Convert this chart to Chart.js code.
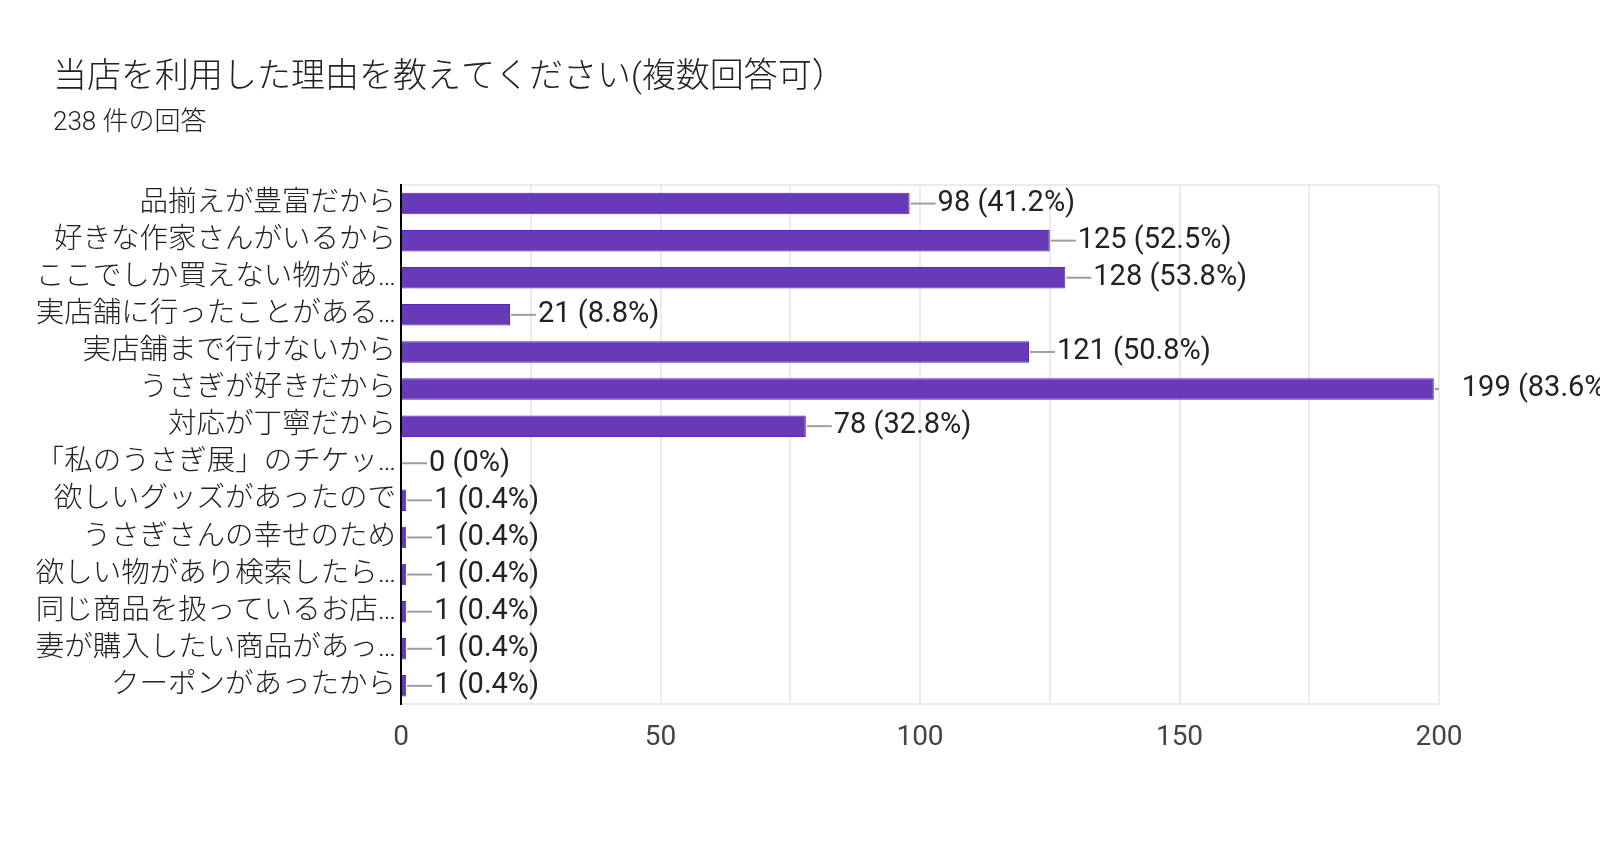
<!DOCTYPE html>
<html lang="ja">
<head>
<meta charset="utf-8">
<title>当店を利用した理由</title>
<script src="https://cdn.jsdelivr.net/npm/chart.js@4.4.1/dist/chart.umd.min.js"></script>
<style>
  html, body { margin: 0; padding: 0; background: #fff; }
  #wrap { width: 1600px; height: 848px; }
</style>
</head>
<body>
<div id="wrap"><canvas id="reasonChart" width="1600" height="848"></canvas></div>
<script>
// Survey answers (labels are shown truncated, as in the form summary)
const reasons = [
    '品揃えが豊富だから',
    '好きな作家さんがいるから',
    'ここでしか買えない物があ…',
    '実店舗に行ったことがある…',
    '実店舗まで行けないから',
    'うさぎが好きだから',
    '対応が丁寧だから',
    '「私のうさぎ展」のチケッ…',
    '欲しいグッズがあったので',
    'うさぎさんの幸せのため',
    '欲しい物があり検索したら…',
    '同じ商品を扱っているお店…',
    '妻が購入したい商品があっ…',
    'クーポンがあったから'
];
const counts = [98, 125, 128, 21, 121, 199, 78, 0, 1, 1, 1, 1, 1, 1];
const percents = ['41.2%', '52.5%', '53.8%', '8.8%', '50.8%', '83.6%', '32.8%', '0%', '0.4%', '0.4%', '0.4%', '0.4%', '0.4%', '0.4%'];
const xTicks = [0, 50, 100, 150, 200];

const titleText = '当店を利用した理由を教えてください(複数回答可）';
const subtitleText = '238 件の回答';

const FONT = 'Roboto, "Noto Sans CJK JP", sans-serif';

// title + response count, left aligned like the forms summary header
const header = {
    id: 'header',
    afterDraw(chart) {
        const ctx = chart.ctx;
        ctx.save();
        ctx.fillStyle = '#202124';
        ctx.textBaseline = 'middle';
        ctx.textAlign = 'left';
        ctx.font = '300 34px ' + FONT;
        ctx.fillText(titleText, 53, 78);
        ctx.font = '300 26px ' + FONT;
        ctx.fillText(subtitleText, 53, 123);
        ctx.restore();
    }
};

// draws "98 (41.2%)" with the little grey leader line after each bar
const valueLabels = {
    id: 'valueLabels',
    afterDatasetsDraw(chart) {
        const ctx = chart.ctx;
        const area = chart.chartArea;
        const meta = chart.getDatasetMeta(0);
        ctx.save();
        ctx.font = '29px ' + FONT;
        ctx.textBaseline = 'middle';
        meta.data.forEach(function(bar, i) {
            const endX = bar.x;
            ctx.strokeStyle = '#9e9e9e';
            ctx.lineWidth = 2;
            ctx.beginPath();
            ctx.moveTo(endX + 1, bar.y);
            ctx.lineTo(Math.min(endX + 26, area.right), bar.y);
            ctx.stroke();
            ctx.fillStyle = '#222222';
            ctx.fillText(counts[i] + ' (' + percents[i] + ')', endX + 28, bar.y);
        });
        ctx.restore();
    }
};

const reasonCtx = document.getElementById('reasonChart').getContext('2d');
const reasonChart = new Chart(reasonCtx, {
    type: 'bar',
    data: {
        labels: reasons,
        datasets: [{
            data: counts,
            backgroundColor: '#673ab7',
            borderColor: '#5a22c2',
            borderWidth: 1,
            borderSkipped: 'start',
            categoryPercentage: 1,
            barPercentage: 0.58
        }]
    },
    options: {
        indexAxis: 'y',
        responsive: false,
        animation: false,
        layout: {
            padding: { left: 10, right: 161, top: 185, bottom: 76 }
        },
        plugins: {
            legend: { display: false },
            tooltip: { enabled: false }
        },
        scales: {
            x: {
                min: 0,
                max: 200,
                ticks: {
                    stepSize: 25,
                    padding: 17,
                    color: '#444444',
                    font: { family: FONT, size: 28 },
                    maxRotation: 0,
                    autoSkip: false,
                    callback: function(v) { return xTicks.includes(v) ? v : ''; }
                },
                grid: {
                    color: '#ebebeb',
                    lineWidth: 2,
                    drawTicks: false
                },
                border: { color: '#ebebeb', width: 2 }
            },
            y: {
                afterFit: function(scale) { scale.width = 391; },
                ticks: {
                    padding: 5,
                    color: '#212121',
                    font: { family: FONT, size: 28.5, weight: 300 },
                    autoSkip: false
                },
                grid: {
                    drawTicks: false,
                    lineWidth: 2,
                    color: function(c) { return c.index === 0 ? '#ebebeb' : 'rgba(0,0,0,0)'; }
                },
                border: { color: '#000000', width: 2, z: 1 }
            }
        }
    },
    plugins: [valueLabels, header]
});
</script>
</body>
</html>
